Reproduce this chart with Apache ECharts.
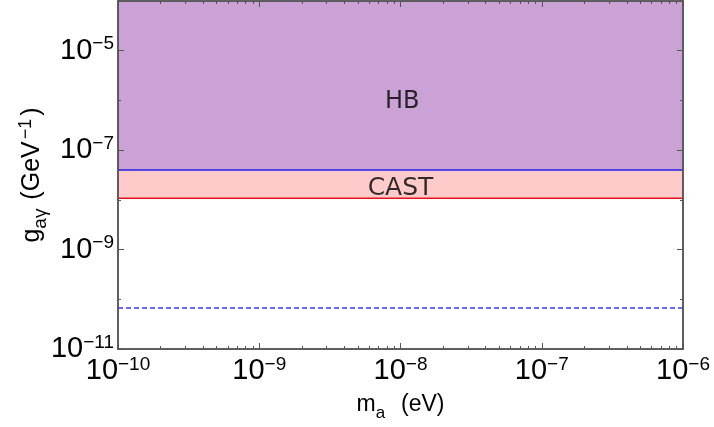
<!DOCTYPE html>
<html>
<head>
<meta charset="utf-8">
<script src="https://cdn.jsdelivr.net/npm/echarts@6.0.0/dist/echarts.min.js"></script>
<style>
  html, body { margin: 0; padding: 0; background: #fff; }
  #chart { width: 714px; height: 427px; }
</style>
</head>
<body>
<div id="chart"></div>
<script>
// ---- data ----
const xRange = [1e-10, 1e-6];           // m_a (eV)
const yRange = [1e-11, 1e-4];           // g_a gamma (GeV^-1)
const hbBound = [4.0e-8, 4.0e-8];       // HB lower edge (blue line)
const castBound = [1.08e-8, 1.08e-8];   // CAST lower edge (red line)
const dashedLine = [6.7e-11, 6.7e-11];  // dashed blue line
const regionNames = ['HB', 'CAST'];
const regionLabelX = [1.03e-8, 1.0e-8];
const regionLabelY = [9.2e-7, 1.7e-8];
const xMajorTicks = [1e-10, 1e-9, 1e-8, 1e-7, 1e-6];
const xMinorTicks = [];
[1e-10, 1e-9, 1e-8, 1e-7].forEach(function (d) {
  [2, 3, 4, 5, 6, 7, 8, 9].forEach(function (m) { xMinorTicks.push(m * d); });
});
const yMajorTicks = [1e-11, 1e-9, 1e-7, 1e-5];
const yMinorTicks = [1e-10, 1e-8, 1e-6, 1e-4];

function pairs(xs, ys) { return xs.map(function (x, i) { return [x, ys[i]]; }); }

const FONT = 'Liberation Sans';
const AXIS_COLOR = '#555';
function tickFmt(v) {
  const e = Math.round(Math.log10(v));
  return '{b|10}{s|' + (e < 0 ? '\u2212' + (-e) : e) + '}';
}
const tickRich = {
  b: { fontFamily: FONT, fontSize: 29, color: '#000', lineHeight: 32 },
  s: { fontFamily: FONT, fontSize: 19, color: '#000', lineHeight: 19, verticalAlign: 'top' }
};
const xNameRich = {
  nm: { fontFamily: FONT, fontSize: 23, color: '#000', lineHeight: 28 },
  sb: { fontFamily: FONT, fontSize: 17, color: '#000', lineHeight: 17, verticalAlign: 'bottom', padding: [0, 16, -3, 0] }
};
const yNameRich = {
  nm: { fontFamily: FONT, fontSize: 25, color: '#000', lineHeight: 30 },
  sb: { fontFamily: FONT, fontSize: 19, color: '#000', lineHeight: 19, verticalAlign: 'bottom', padding: [0, 2, -3, 0] },
  sp: { fontFamily: FONT, fontSize: 18, color: '#000', lineHeight: 18, verticalAlign: 'top', padding: [0, 3, 0, 2] }
};

function xAx(pos, showLabel, ticks, len, name) {
  return {
    type: 'log', logBase: 10, min: xRange[0], max: xRange[1], position: pos, z: 10,
    axisLine: { show: true, lineStyle: { color: AXIS_COLOR, width: 1.5 } },
    axisTick: { show: true, inside: true, length: len, customValues: ticks, lineStyle: { color: AXIS_COLOR, width: 1 } },
    axisLabel: showLabel ? { show: true, customValues: ticks, margin: 6, formatter: tickFmt, rich: tickRich } : { show: false },
    splitLine: { show: false },
    name: name || '',
    nameLocation: 'middle', nameGap: 42, nameMoveOverlap: false,
    nameTextStyle: { fontFamily: FONT, fontSize: 23, color: '#000', lineHeight: 28, rich: xNameRich }
  };
}
function yAx(pos, showLabel, ticks, len, name) {
  return {
    type: 'log', logBase: 10, min: yRange[0], max: yRange[1], position: pos, z: 10,
    axisLine: { show: true, lineStyle: { color: AXIS_COLOR, width: 1.5 } },
    axisTick: { show: true, inside: true, length: len, customValues: ticks, lineStyle: { color: AXIS_COLOR, width: 1 } },
    axisLabel: showLabel ? { show: true, customValues: ticks, margin: 4, formatter: tickFmt, rich: tickRich } : { show: false },
    splitLine: { show: false },
    name: name || '',
    nameLocation: 'middle', nameGap: 71, nameRotate: 90, nameMoveOverlap: false,
    nameTextStyle: { fontFamily: FONT, fontSize: 25, color: '#000', lineHeight: 30, rich: yNameRich }
  };
}

const chart = echarts.init(document.getElementById('chart'), null, { renderer: 'canvas' });
chart.setOption({
  animation: false,
  backgroundColor: '#fff',
  grid: { left: 118, right: 31, top: 1, bottom: 77 },
  xAxis: [
    xAx('bottom', true, xMajorTicks, 6, '{nm|m}{sb|a}{nm|(eV)}'),
    xAx('bottom', false, xMinorTicks, 3),
    xAx('top', false, xMajorTicks, 6),
    xAx('top', false, xMinorTicks, 3)
  ],
  yAxis: [
    yAx('left', true, yMajorTicks, 6, '{nm|g}{sb|aγ}{nm| (GeV}{sp|\u22121}{nm|)}'),
    yAx('left', false, yMinorTicks, 3),
    yAx('right', false, yMajorTicks, 6),
    yAx('right', false, yMinorTicks, 3)
  ],
  series: [
    { // CAST band (pink)
      type: 'line', xAxisIndex: 0, yAxisIndex: 0, z: 1,
      data: pairs(xRange, hbBound), symbol: 'none',
      lineStyle: { width: 0, opacity: 0 },
      areaStyle: { origin: 'start', color: '#ffcaca', opacity: 1 }
    },
    { // below CAST (white) + red line
      type: 'line', xAxisIndex: 0, yAxisIndex: 0, z: 1,
      data: pairs(xRange, castBound), symbol: 'none',
      lineStyle: { color: '#e8141b', width: 1.5 },
      areaStyle: { origin: 'start', color: '#ffffff', opacity: 1 }
    },
    { // HB region (purple) + blue line
      type: 'line', xAxisIndex: 0, yAxisIndex: 0, z: 1,
      data: pairs(xRange, hbBound), symbol: 'none',
      lineStyle: { color: '#1f1fe6', width: 1.5 },
      areaStyle: { origin: 'end', color: '#caa2d5', opacity: 1 }
    },
    { // dashed line
      type: 'line', xAxisIndex: 0, yAxisIndex: 0, z: 1,
      data: pairs(xRange, dashedLine), symbol: 'none',
      lineStyle: { color: '#3a3af5', width: 1.5, type: [5, 3] }
    },
    { // region labels
      type: 'scatter', xAxisIndex: 0, yAxisIndex: 0, z: 3,
      data: regionNames.map(function (n, i) {
        return { name: n, value: [regionLabelX[i], regionLabelY[i]], label: { fontSize: i === 0 ? 24 : 25 } };
      }),
      symbolSize: 1, itemStyle: { color: 'rgba(0,0,0,0)' },
      label: { show: true, position: 'inside', formatter: '{b}', fontFamily: 'DejaVu Sans', fontSize: 24, color: '#000' }
    }
  ]
});
</script>
</body>
</html>
